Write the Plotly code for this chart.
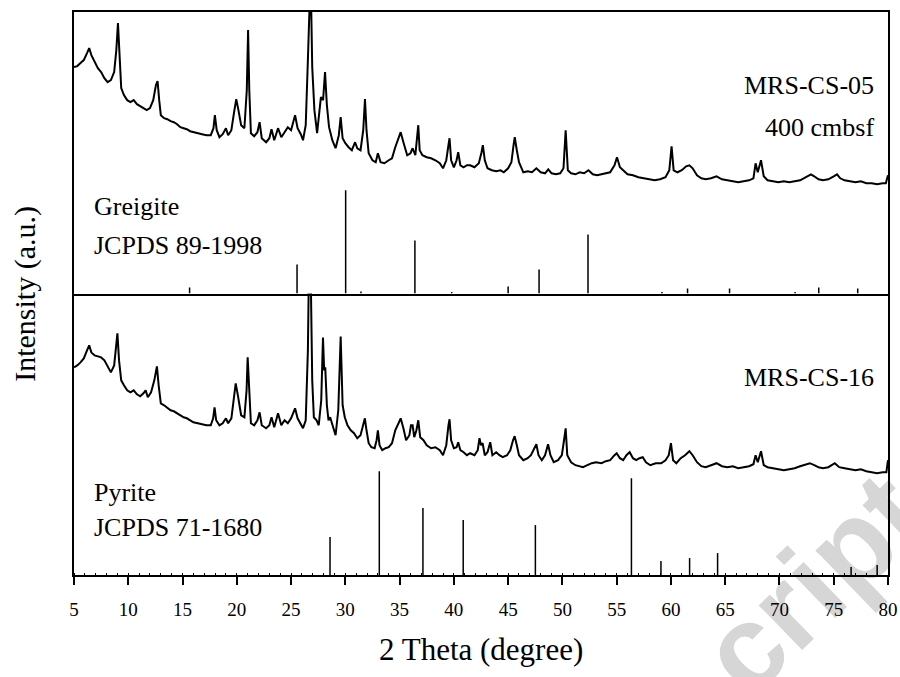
import plotly.graph_objects as go

# ---------------- data ----------------
# Sample MRS-CS-05 (400 cmbsf) - 2theta (deg) and intensity (a.u.)
theta_05 = [5.0, 5.3, 5.6, 5.9, 6.2, 6.4, 6.6, 6.9, 7.2, 7.5, 7.8, 8.1, 8.4, 8.7, 8.9, 9.05, 9.2, 9.35,
            9.6, 9.9, 10.2, 10.5, 10.8, 11.1, 11.4, 11.7, 12.0, 12.3, 12.55, 12.7, 12.85, 13.0, 13.3,
            13.6, 13.9, 14.2, 14.5, 14.8, 15.1, 15.4, 15.7, 16.0, 16.4, 16.8, 17.2, 17.6, 17.85, 17.98,
            18.15, 18.4, 18.7, 19.0, 19.2, 19.5, 19.75, 19.95, 20.15, 20.4, 20.7, 20.92, 21.04, 21.15,
            21.3, 21.6, 21.9, 22.1, 22.3, 22.7, 23.0, 23.2, 23.45, 23.8, 24.1, 24.4, 24.7, 25.0, 25.25,
            25.37, 25.6, 25.9, 26.1, 26.35, 26.55, 26.65, 26.8, 26.95, 27.15, 27.4, 27.6, 27.75, 27.95,
            28.13, 28.3, 28.5, 28.8, 29.1, 29.4, 29.57, 29.75, 30.0, 30.3, 30.6, 30.9, 31.1, 31.4, 31.65,
            31.81, 31.95, 32.15, 32.5, 32.8, 33.0, 33.25, 33.6, 34.0, 34.3, 34.6, 34.9, 35.1, 35.35,
            35.7, 36.0, 36.2, 36.45, 36.62, 36.72, 36.85, 37.1, 37.5, 37.9, 38.3, 38.7, 39.0, 39.3,
            39.5, 39.6, 39.75, 40.0, 40.25, 40.4, 40.6, 40.9, 41.2, 41.5, 41.9, 42.3, 42.55, 42.67,
            42.85, 43.1, 43.5, 43.9, 44.3, 44.6, 45.0, 45.3, 45.5, 45.61, 45.8, 46.0, 46.4, 46.8, 47.2,
            47.6, 48.0, 48.4, 48.7, 49.0, 49.4, 49.8, 50.1, 50.3, 50.5, 50.8, 51.2, 51.6, 52.0, 52.4,
            52.8, 53.2, 53.6, 54.0, 54.4, 54.8, 55.03, 55.3, 55.6, 56.0, 56.5, 57.0, 57.5, 58.0, 58.5,
            59.0, 59.5, 59.85, 60.06, 60.25, 60.6, 61.0, 61.4, 61.7, 62.0, 62.4, 62.8, 63.2, 63.7, 64.2,
            64.7, 65.2, 65.7, 66.2, 66.7, 67.2, 67.6, 67.8, 68.0, 68.3, 68.55, 68.9, 69.4, 69.9, 70.4,
            70.9, 71.4, 71.9, 72.4, 72.9, 73.2, 73.6, 74.0, 74.5, 75.0, 75.3, 75.6, 76.0, 76.5, 77.0,
            77.5, 78.0, 78.5, 79.0, 79.5, 79.8, 80.0]
int_05 = [226, 227, 230, 233, 240, 245, 238, 231, 225, 221, 215, 211, 213, 221, 243, 270, 233, 205,
          198, 193, 191, 193, 189, 187, 185, 183, 185, 193, 208, 212, 193, 178, 175,
          174, 172, 171, 169, 166, 165, 164, 162, 161, 160, 159, 158, 158, 165, 178,
          163, 156, 159, 165, 158, 163, 181, 194, 183, 168, 165, 203, 263, 203,
          160, 157, 161, 171, 155, 151, 155, 164, 153, 165, 156, 161, 166, 163, 173,
          178, 165, 159, 153, 168, 233, 320, 320, 226, 183, 160, 183, 196, 193,
          221, 188, 166, 153, 145, 158, 176, 155, 150, 146, 143, 151, 145, 143, 163,
          194, 163, 140, 133, 131, 140, 131, 130, 133, 135, 146, 155, 161, 151,
          138, 140, 145, 138, 153, 168, 143, 138, 136, 135, 133, 130, 125, 133,
          148, 155, 133, 126, 133, 141, 128, 126, 128, 128, 126, 130, 141, 148,
          133, 125, 123, 122, 123, 121, 125, 131, 148, 156, 143, 131, 121, 122, 121,
          125, 121, 120, 124, 120, 119, 120, 125, 163, 123, 120, 119, 121, 120, 123,
          119, 118, 119, 120, 121, 128, 136, 126, 123, 119, 118, 116, 115, 114, 113,
          114, 116, 123, 147, 123, 121, 123, 127, 128, 125, 118, 115, 114, 115, 117,
          114, 113, 112, 111, 112, 113, 115, 130, 121, 133, 117, 113, 112, 111, 112,
          111, 112, 113, 116, 119, 117, 114, 113, 114, 117, 119, 115, 113, 112, 111,
          112, 110, 110, 109, 110, 110, 118]

# Sample MRS-CS-16
theta_16 = [5.0, 5.3, 5.6, 5.9, 6.2, 6.4, 6.6, 6.9, 7.2, 7.5, 7.8, 8.1, 8.4, 8.7, 8.9, 9.0, 9.15, 9.35,
            9.6, 9.9, 10.2, 10.5, 10.8, 11.1, 11.4, 11.6, 11.8, 12.1, 12.4, 12.64, 12.8, 13.0, 13.3,
            13.6, 13.9, 14.2, 14.5, 14.8, 15.1, 15.4, 15.7, 16.0, 16.4, 16.8, 17.2, 17.6, 17.82, 17.95,
            18.1, 18.4, 18.7, 19.0, 19.2, 19.5, 19.75, 19.9, 20.1, 20.4, 20.7, 20.9, 21.0, 21.12,
            21.3, 21.6, 21.9, 22.1, 22.3, 22.7, 23.0, 23.2, 23.45, 23.8, 24.1, 24.4, 24.7, 25.0, 25.25,
            25.37, 25.6, 25.9, 26.1, 26.35, 26.55, 26.65, 26.8, 26.95, 27.1, 27.35, 27.55, 27.78,
            27.94, 28.05, 28.15, 28.3, 28.45, 28.6, 28.8, 29.1, 29.35, 29.57, 29.75, 29.95, 30.2, 30.5,
            30.8, 31.1, 31.4, 31.65, 31.8, 31.95, 32.15, 32.4, 32.7, 32.88, 33.0, 33.15, 33.4, 33.7,
            34.0, 34.3, 34.6, 34.9, 35.1, 35.35, 35.6, 35.9, 36.05, 36.2, 36.35, 36.55, 36.72, 36.9,
            37.2, 37.5, 37.9, 38.3, 38.7, 39.0, 39.3, 39.5, 39.6, 39.75, 40.0, 40.25, 40.4, 40.6,
            40.9, 41.2, 41.5, 41.9, 42.2, 42.36, 42.5, 42.65, 42.85, 43.1, 43.35, 43.55, 43.9, 44.2,
            44.5, 44.9, 45.2, 45.45, 45.6, 45.8, 46.0, 46.4, 46.8, 47.1, 47.4, 47.6, 47.8, 48.1, 48.4,
            48.68, 48.9, 49.2, 49.6, 49.95, 50.15, 50.3, 50.45, 50.8, 51.2, 51.6, 51.9, 52.3, 52.7,
            53.1, 53.6, 54.0, 54.4, 54.8, 55.0, 55.3, 55.6, 55.9, 56.2, 56.5, 56.8, 57.1, 57.4, 57.7,
            58.1, 58.6, 59.1, 59.5, 59.8, 60.0, 60.2, 60.5, 60.9, 61.3, 61.7, 62.0, 62.4, 62.8, 63.2,
            63.7, 64.2, 64.7, 65.2, 65.7, 66.2, 66.7, 67.2, 67.6, 67.8, 68.0, 68.3, 68.55, 68.9, 69.4,
            69.9, 70.4, 70.9, 71.4, 71.9, 72.4, 72.8, 73.2, 73.6, 74.0, 74.5, 75.1, 75.5, 76.0, 76.5,
            77.0, 77.5, 78.0, 78.5, 79.0, 79.5, 79.85, 80.0]
int_16 = [208, 210, 213, 217, 225, 230, 223, 220, 219, 218, 215, 209, 203, 210, 230, 242, 215, 195,
          190, 185, 183, 185, 181, 179, 182, 185, 178, 183, 195, 209, 190, 172, 170,
          167, 165, 164, 162, 160, 158, 157, 155, 153, 152, 151, 150, 150, 157, 168,
          155, 150, 152, 157, 152, 157, 180, 192, 180, 160, 158, 185, 218, 185,
          152, 150, 155, 163, 150, 147, 150, 158, 148, 162, 150, 155, 152, 157, 165,
          167, 157, 150, 147, 155, 225, 310, 310, 195, 158, 155, 150, 175,
          238, 205, 208, 170, 155, 158, 150, 140, 165, 239, 170, 158, 150, 145,
          142, 137, 140, 150, 157, 145, 132, 128, 127, 135, 145, 130, 125, 127,
          128, 132, 145, 152, 157, 147, 135, 140, 150, 150, 138, 145, 155, 138,
          135, 130, 127, 128, 125, 120, 130, 150, 156, 135, 127, 128, 133, 125,
          123, 120, 122, 120, 125, 137, 130, 132, 120, 123, 133, 120, 123, 120,
          118, 120, 125, 135, 139, 130, 120, 115, 117, 120, 127, 131, 120, 115, 120,
          131, 120, 113, 115, 120, 135, 147, 120, 113, 110, 109, 108, 110, 112,
          113, 112, 114, 115, 120, 122, 117, 115, 120, 123, 117, 115, 117, 118, 113,
          110, 112, 112, 115, 120, 132, 115, 112, 117, 120, 124, 120, 113, 109, 108,
          110, 112, 109, 108, 109, 107, 108, 109, 111, 120, 113, 124, 110, 108, 107,
          106, 105, 106, 107, 109, 111, 112, 110, 108, 107, 108, 112, 108, 107, 106,
          105, 106, 104, 103, 102, 103, 103, 115]

# Reference stick patterns
greigite_pos = [15.65, 25.55, 30.03, 31.44, 36.41, 39.8, 45.0, 47.85, 52.36, 59.17, 61.53, 65.4,
                71.44, 73.62, 77.21]
greigite_int = [6, 29, 103, 2, 53, 1.5, 7, 24, 59, 1.5, 5, 5, 1.5, 6, 5]
pyrite_pos = [28.59, 33.13, 37.15, 40.86, 47.51, 56.36, 59.08, 61.72, 64.3, 76.6, 79.0]
pyrite_int = [38, 104, 67, 55, 50, 97, 14, 17, 22, 8, 10]

x_tick_vals = [5, 10, 15, 20, 25, 30, 35, 40, 45, 50, 55, 60, 65, 70, 75, 80]

SERIF = "Liberation Serif"


def sticks(pos, h):
    xs, ys = [], []
    for p, v in zip(pos, h):
        xs += [p, p, None]
        ys += [0, v, None]
    return xs, ys


fig = go.Figure()

gx, gy = sticks(greigite_pos, greigite_int)
px_, py_ = sticks(pyrite_pos, pyrite_int)

fig.add_trace(go.Scatter(x=theta_05, y=int_05, xaxis="x2", yaxis="y2", mode="lines",
                         line=dict(color="black", width=2), showlegend=False))
fig.add_trace(go.Scatter(x=gx, y=gy, xaxis="x2", yaxis="y2", mode="lines",
                         line=dict(color="black", width=1.5), showlegend=False))
fig.add_trace(go.Scatter(x=theta_16, y=int_16, xaxis="x", yaxis="y", mode="lines",
                         line=dict(color="black", width=2), showlegend=False))
fig.add_trace(go.Scatter(x=px_, y=py_, xaxis="x", yaxis="y", mode="lines",
                         line=dict(color="black", width=1.5), showlegend=False))

fig.update_layout(
    width=900, height=677, autosize=False, showlegend=False,
    margin=dict(l=74, r=12, t=12, b=102, autoexpand=False),
    paper_bgcolor="white", plot_bgcolor="white",
    font=dict(family=SERIF, color="black"),
    xaxis=dict(domain=[0, 1], range=[5, 80], anchor="y", showline=True, linecolor="black",
               linewidth=2, mirror=False, showgrid=False, zeroline=False, automargin=False,
               tickmode="array", tickvals=x_tick_vals, ticktext=[str(v) for v in x_tick_vals],
               ticks="outside", ticklen=8, tickwidth=2, tickcolor="black", ticklabelstandoff=8,
               tickfont=dict(family=SERIF, size=19, color="black"),
               minor=dict(dtick=1, tick0=5, ticks="inside", ticklen=2, tickwidth=1, tickcolor="black")),
    xaxis2=dict(domain=[0, 1], range=[5, 80], anchor="y2", matches="x", showline=True,
                linecolor="black", linewidth=2, mirror=True, showgrid=False, zeroline=False,
                showticklabels=False, ticks="", automargin=False),
    yaxis=dict(domain=[0, 0.5], range=[0, 282], anchor="x", showline=True, linecolor="black",
               linewidth=2, mirror=True, showgrid=False, zeroline=False, showticklabels=False,
               ticks="", automargin=False),
    yaxis2=dict(domain=[0.5, 1], range=[0, 281], anchor="x2", showline=True, linecolor="black",
                linewidth=2, mirror=True, showgrid=False, zeroline=False, showticklabels=False,
                ticks="", automargin=False),
)

# watermark fragment (behind the plot)
fig.add_shape(type="rect", xref="paper", yref="paper", x0=0.838, x1=0.958, y0=-0.07, y1=0.07,
              line=dict(width=0), fillcolor="rgba(0,0,0,0)", layer="below",
              label=dict(text="cript", textangle=-44, textposition="middle center",
                         font=dict(family="Liberation Sans", size=118,
                                   color="#d6d6d6", weight="bold")))

ann_font = dict(family=SERIF, size=26, color="black")
labels = [
    ("MRS-CS-05", 0.985, 0.870, "right"),
    ("400 cmbsf", 0.985, 0.794, "right"),
    ("Greigite", 0.022, 0.654, "left"),
    ("JCPDS 89-1998", 0.022, 0.586, "left"),
    ("MRS-CS-16", 0.985, 0.350, "right"),
    ("Pyrite", 0.022, 0.147, "left"),
    ("JCPDS 71-1680", 0.022, 0.0835, "left"),
]
for txt, x, y, xa in labels:
    fig.add_annotation(text=txt, x=x, y=y, xref="paper", yref="paper", xanchor=xa,
                       yanchor="middle", showarrow=False, font=ann_font)

fig.add_annotation(text="2 Theta (degree)", x=0.5, y=-0.133, xref="paper", yref="paper",
                   xanchor="center", yanchor="middle", showarrow=False,
                   font=dict(family=SERIF, size=31, color="black"))
fig.add_annotation(text="Intensity (a.u.)", x=-0.061, y=0.5, xref="paper", yref="paper",
                   xanchor="center", yanchor="middle", textangle=-90, showarrow=False,
                   font=dict(family=SERIF, size=30, color="black"))

fig.write_html("out.html", config={"displayModeBar": False, "responsive": False},
               post_script="document.body.style.margin='0';")
